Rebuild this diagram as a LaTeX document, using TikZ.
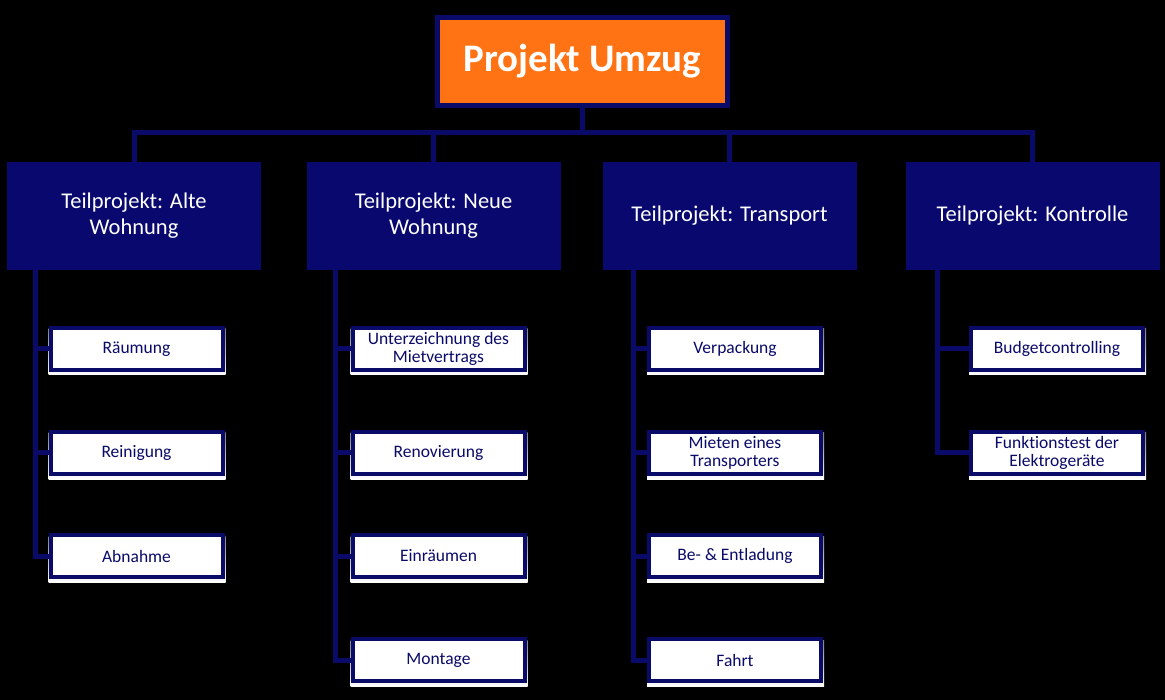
\documentclass[tikz,border=0pt]{standalone}
\usepackage{fontspec}
\setmainfont{Carlito}[Ligatures=NoCommon]
\definecolor{navy}{RGB}{10,10,105}
\definecolor{navyfill}{RGB}{8,8,110}
\definecolor{orng}{RGB}{255,115,20}
\definecolor{shade}{RGB}{35,35,45}
\tikzset{
  conn/.style={draw=navy, line width=5pt},
  rootbox/.style={draw=navy, line width=5pt, fill=orng, minimum width=290pt, minimum height=88pt, text=white, font=\fontsize{39}{44}\selectfont\bfseries, inner sep=0pt},
  subbox/.style={fill=navyfill, minimum width=254pt, minimum height=108pt, text=white, align=center, font=\fontsize{22.5}{26}\selectfont, inner sep=0pt},
  taskbox/.style={draw=navy, line width=4pt, fill=white, minimum width=172pt, minimum height=42pt, text=navy, align=center, font=\fontsize{17.5}{18.5}\selectfont, inner sep=0pt},
}
\begin{document}
\begin{tikzpicture}[x=1pt,y=-1pt]
\fill[black] (0,0) rectangle (1165,700);
\useasboundingbox (0,0) rectangle (1165,700);

% root
\node[rootbox] (root) at (582.5,61.5) {Projekt Umzug};

% level 2
\node[subbox] (A) at (134,216) {Teilprojekt: Alte\\Wohnung};
\node[subbox] (B) at (433.5,216) {Teilprojekt: Neue\\Wohnung};
\node[subbox] (C) at (729.5,216) {Teilprojekt: Transport};
\node[subbox] (D) at (1032.5,216) {Teilprojekt: Kontrolle};

% connectors root -> level 2
\coordinate (bar) at (0,133);
\draw[conn] (root.south) -- (bar -| root.south);
\draw[conn] (A.north) |- (bar -| root.south);
\draw[conn] (B.north) |- (bar -| root.south);
\draw[conn] (C.north) |- (bar -| root.south);
\draw[conn] (D.north) |- (bar -| root.south);

% shadows of task boxes
\foreach \x/\y in {136.5/349, 136.5/453, 136.5/556,
                   438.5/349, 438.5/453, 438.5/556, 438.5/660,
                   735/349, 735/453, 735/556, 735/660,
                   1057/349, 1057/453}{
  \fill[shade] (\x-88,\y-20) rectangle (\x+89,\y+26);
}

% tasks A
\node[taskbox] (a1) at (136.5,349) {Räumung};
\node[taskbox] (a2) at (136.5,453) {Reinigung};
\node[taskbox] (a3) at (136.5,556) {Abnahme};
% tasks B
\node[taskbox] (b1) at (438.5,349) {Unterzeichnung des\\Mietvertrags};
\node[taskbox] (b2) at (438.5,453) {Renovierung};
\node[taskbox] (b3) at (438.5,556) {Einräumen};
\node[taskbox] (b4) at (438.5,660) {Montage};
% tasks C
\node[taskbox] (c1) at (735,349) {Verpackung};
\node[taskbox] (c2) at (735,453) {Mieten eines\\Transporters};
\node[taskbox] (c3) at (735,556) {Be- \& Entladung};
\node[taskbox] (c4) at (735,660) {Fahrt};
% tasks D
\node[taskbox] (d1) at (1057,349) {Budgetcontrolling};
\node[taskbox] (d2) at (1057,453) {Funktionstest der\\Elektrogeräte};

% spines
\coordinate (As) at (35,270);
\coordinate (Bs) at (335,270);
\coordinate (Cs) at (633,270);
\coordinate (Ds) at (937,270);
\foreach \t in {a1,a2,a3}{ \draw[conn] (As) |- (\t.west); }
\foreach \t in {b1,b2,b3,b4}{ \draw[conn] (Bs) |- (\t.west); }
\foreach \t in {c1,c2,c3,c4}{ \draw[conn] (Cs) |- (\t.west); }
\foreach \t in {d1,d2}{ \draw[conn] (Ds) |- (\t.west); }
\end{tikzpicture}
\end{document}
